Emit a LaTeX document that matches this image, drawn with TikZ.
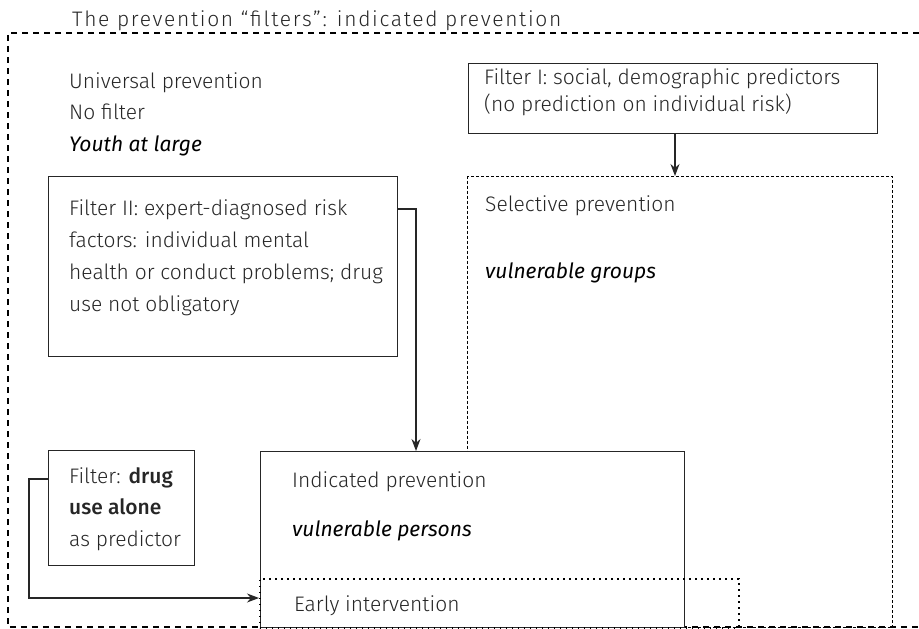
\documentclass[tikz,border=0pt]{standalone}
\usepackage{fontspec}
\setmainfont{Fira Sans}[UprightFont={* Light}, ItalicFont={* Italic}, BoldFont={* Medium}]
\usetikzlibrary{arrows.meta}

\begin{document}
\begin{tikzpicture}[x=1pt,y=-1pt,
    txt/.style={anchor=base west, inner sep=0pt, text=black!85, align=left, font=\fontsize{21}{31}\selectfont},
    emph/.style={txt, text=black, font=\fontsize{21}{31}\selectfont\itshape},
    box/.style={draw=black!85, line width=1.2pt, anchor=north west, inner sep=0pt},
    outer/.style={draw, line width=1.2pt, dash pattern=on 6pt off 5pt},
    selbox/.style={box, draw=black, dash pattern=on 3pt off 2pt},
    dotbox/.style={box, draw=black, line width=1.6pt, dash pattern=on 1.6pt off 4.4pt},
    conn/.style={draw=black!85, line width=1.2pt},
    tip/.style={-{Stealth[length=12pt,width=9pt]}}]
    \useasboundingbox (0,0) rectangle (919,629);
    % outer frame, open on the right
    \draw[outer] (919,33) -- (8,33) -- (8,627) -- (919,627);
    \node[txt, font=\fontsize{21}{31}\selectfont\addfontfeature{LetterSpace=8}] (title) at (72,27) {The prevention “filters”: indicated prevention};
    % universal (base = last line)
    \node[txt] (universal) at (69,119) {Universal prevention\\No filter};
    \node[emph] (youth) at (69,151) {Youth at large};
    % filter I and selective
    \node[box, minimum width=409pt, minimum height=70pt] (filterone) at (468,63) {};
    \node[txt, font=\fontsize{21}{27}\selectfont] (filteronetxt) at (484,111) {Filter I: social, demographic predictors\\(no prediction on individual risk)};
    \node[selbox, minimum width=425pt, minimum height=451pt] (selective) at (467,176) {};
    \node[txt] (selectivetxt) at (485,211) {Selective prevention};
    \node[emph] (groups) at (485,278) {vulnerable groups};
    % filter II
    \node[box, minimum width=349pt, minimum height=180pt] (filtertwo) at (48,176) {};
    \node[txt, font=\fontsize{21}{32}\selectfont] (filtertwotxt) at (69,311) {Filter II: expert-diagnosed risk\\factors: individual mental\\health or conduct problems; drug\\use not obligatory};
    % indicated and early intervention
    \node[box, fill=white, minimum width=424pt, minimum height=176pt] (indicated) at (260,451) {};
    \node[txt] (indicatedtxt) at (292,487) {Indicated prevention};
    \node[emph] (persons) at (292,536) {vulnerable persons};
    \node[dotbox, minimum width=479pt, minimum height=49pt] (early) at (259,578) {};
    \node[txt] (earlytxt) at (294,611) {Early intervention};
    % filter drug use
    \node[box, minimum width=146pt, minimum height=115pt] (filterdrug) at (48,450) {};
    \node[txt, font=\fontsize{21}{31.5}\selectfont] (filterdrugtxt) at (69,546) {Filter: \textbf{drug}\\\textbf{use alone}\\as predictor};
    % connectors
    \coordinate (twoout) at (397,209);
    \coordinate (indin) at (416,451);
    \coordinate (drugout) at (48,479);
    \coordinate (earlyin) at (259,598);
    \draw[conn, tip] (filterone.south -| 675,0) -- (selective.north -| 675,0);
    \draw[conn, tip] (twoout) -| (indin);
    \draw[conn, tip] (drugout) -- ++(-19,0) |- (earlyin);
\end{tikzpicture}
\end{document}
